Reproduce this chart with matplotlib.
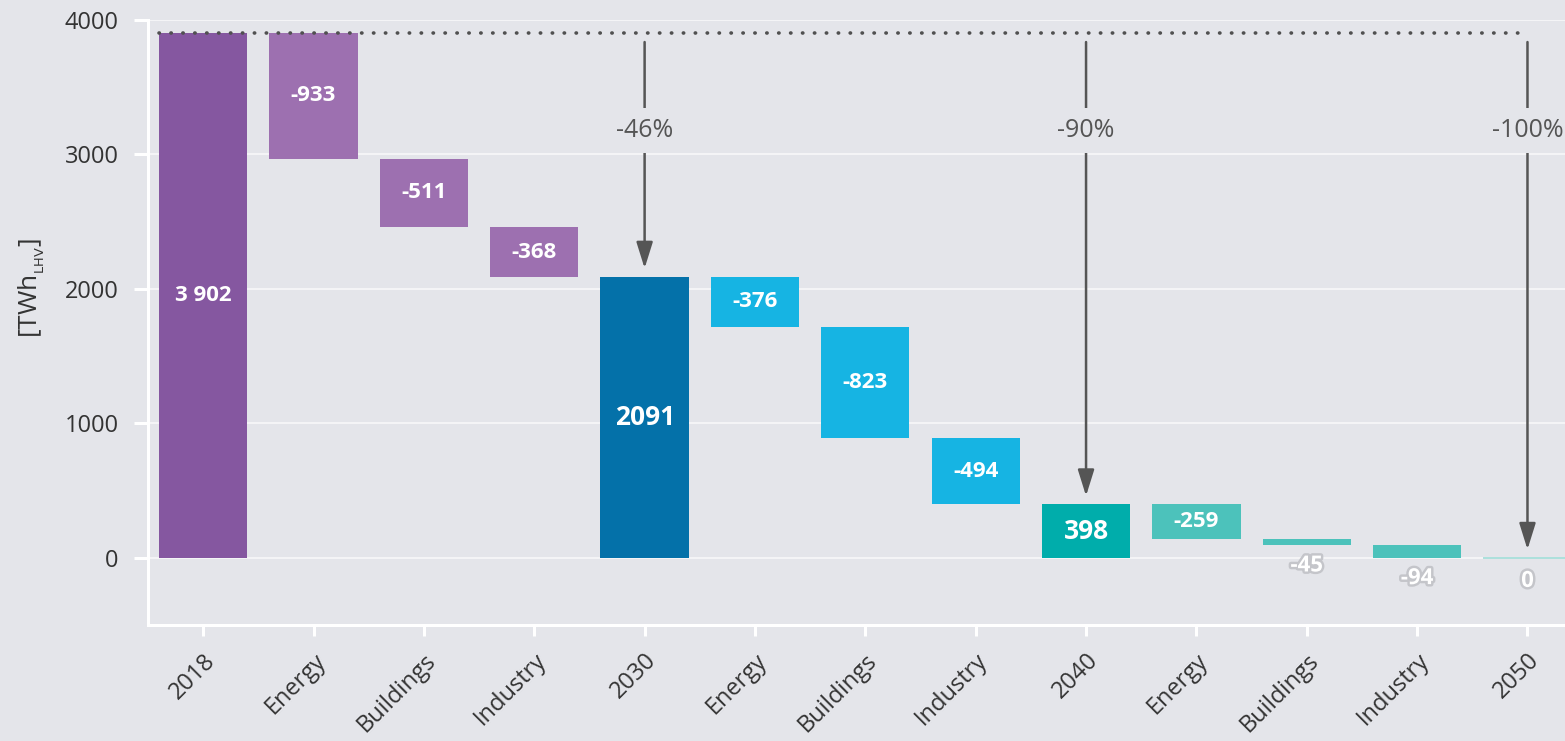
import matplotlib
matplotlib.use("Agg")
import matplotlib.pyplot as plt
import matplotlib.patheffects as pe

categories = ["2018", "Energy", "Buildings", "Industry", "2030", "Energy", "Buildings",
              "Industry", "2040", "Energy", "Buildings", "Industry", "2050"]
values = [3902, -933, -511, -368, 2091, -376, -823, -494, 398, -259, -45, -94, 0]
is_total = [True, False, False, False, True, False, False, False, True, False, False, False, True]
labels = ["3 902", "-933", "-511", "-368", "2091", "-376", "-823", "-494", "398", "-259", "-45", "-94", "0"]
colors = ["#8557a0", "#9d70b0", "#9d70b0", "#9d70b0", "#0471a9", "#16b4e3", "#16b4e3",
          "#16b4e3", "#00adab", "#4cc2bb", "#4cc2bb", "#4cc2bb", "#4cc2bb"]
pct_labels = ["-46%", "-90%", "-100%"]
pct_targets = [4, 8, 12]

BG = "#e4e5ea"
plt.rcParams['font.family'] = ['Open Sans', 'DejaVu Sans']

fig = plt.figure(figsize=(15.65, 7.41), dpi=100, facecolor=BG)
ax = fig.add_axes([148 / 1565, 116 / 741, 1 - 148 / 1565, (625 - 20) / 741], facecolor=BG)

# waterfall geometry
bottoms, heights = [], []
running = 0
for v, t in zip(values, is_total):
    if t:
        bottoms.append(0)
        heights.append(v)
        running = v
    else:
        bottoms.append(running + v)
        heights.append(-v)
        running = running + v

x = list(range(len(categories)))
ax.bar(x, heights, bottom=bottoms, width=0.8, color=colors, zorder=3)
# zero-height 2050 bar shown as thin line
ax.hlines(0, 12 - 0.4, 12 + 0.4, color="#9fdcd7", lw=1.2, zorder=3)

# labels
for i in x:
    b, h = bottoms[i], heights[i]
    if h >= 100:
        size = 19 if is_total[i] and i > 0 else 16
        ax.text(i, b + h / 2, labels[i], ha="center", va="center", color="white",
                fontsize=size, fontweight="bold", zorder=5)
    else:
        ax.annotate(labels[i], (i, b), xytext=(0, -15 if h > 0 else -17), textcoords="offset points",
                    ha="center", va="center", color="white", fontsize=16, fontweight="bold",
                    zorder=5, path_effects=[pe.withStroke(linewidth=3.5, foreground="#c4c5ca")])

# dotted reference line
ax.hlines(values[0], -0.4, 12.0, colors="#505050", linestyles=(0, (0.1, 3.2)), lw=2.6,
          capstyle="round", zorder=4)

# arrows and percentages
for lab, t in zip(pct_labels, pct_targets):
    top = bottoms[t] + heights[t]
    ax.annotate("", xy=(t, top), xytext=(t, 3836),
                arrowprops=dict(arrowstyle="-|>,head_length=1.6,head_width=0.5", color="#555555",
                                lw=1.8, shrinkA=0, shrinkB=6), zorder=4)
    ax.text(t, 3175, lab, ha="center", va="center", fontsize=18, color="#555555", zorder=6,
            bbox=dict(boxstyle="square,pad=0.4", fc=BG, ec="none"))

ax.set_xlim(-0.5, 12.34)
ax.set_ylim(-500, 4000)
ax.set_yticks([0, 1000, 2000, 3000, 4000])
ax.set_xticks(x)
ax.set_xticklabels(categories, rotation=45, ha="right", rotation_mode="anchor")
ax.grid(axis="y", color="white", lw=1.5, alpha=0.6, zorder=0)
ax.set_axisbelow(True)

for s in ["top", "right"]:
    ax.spines[s].set_visible(False)
for s in ["left", "bottom"]:
    ax.spines[s].set_color("white")
    ax.spines[s].set_linewidth(2.2)

ax.tick_params(axis="y", colors="white", length=10, width=2.2, pad=11, labelsize=17, labelcolor="#333333")
ax.tick_params(axis="x", colors="white", length=8, width=2.2, pad=9, labelsize=17, labelcolor="#333333")
ax.set_ylabel(r"[TWh$_{_{\mathrm{LHV}}}$]", fontsize=19, color="#333333")
ax.yaxis.set_label_coords(-0.071, 0.557)

fig.savefig("out.png", dpi=100, facecolor=BG)
